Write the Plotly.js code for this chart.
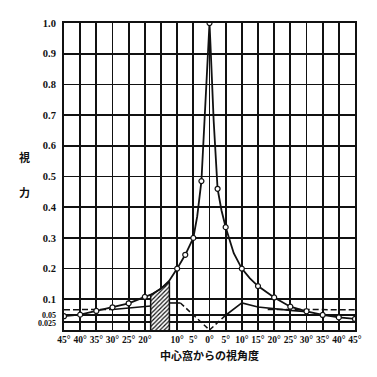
<!DOCTYPE html>
<html><head><meta charset="utf-8">
<script src="https://cdn.plot.ly/plotly-3.0.1.min.js"></script>
<style>html,body{margin:0;padding:0;background:#fff;}#chart{width:377px;height:377px;}</style>
</head><body><div id="chart"></div>
<script>
// Photopic acuity: marked points
const markX = [-45,-40,-35,-30,-25,-20,-10,-7.5,-5,-2.5,0,2.5,5,10,15,20,25,30,35,40,45];
const markY = [0.045,0.05,0.062,0.074,0.087,0.108,0.2,0.245,0.30,0.485,1.0,0.46,0.335,0.2,0.143,0.106,0.076,0.061,0.049,0.041,0.036];
// Photopic acuity: full curve (marked points plus read-off intermediate points)
const curveX = [-45,-40,-35,-30,-25,-20,-17.5,-15,-12.5,-10,-7.5,-5,-3.8,-2.5,-1.5,-0.8,-0.3,0,0.3,0.8,1.3,2.5,3.7,5,7.5,10,12.5,15,20,25,30,35,40,45];
const curveY = [0.045,0.05,0.062,0.074,0.087,0.108,0.118,0.135,0.16,0.2,0.245,0.30,0.37,0.485,0.68,0.82,0.93,1.0,0.93,0.8,0.68,0.46,0.39,0.335,0.25,0.2,0.168,0.143,0.106,0.076,0.061,0.049,0.041,0.036];
// Lower curve, solid parts
const lowLeftX = [-30,-25,-20,-18.2];
const lowLeftY = [0.067,0.071,0.076,0.078];
const lowMidX = [-12.4,-9];
const lowMidY = [0.088,0.088];
const lowRightX = [5,10,15,20,25,30];
const lowRightY = [0.048,0.088,0.075,0.069,0.064,0.06];
// Lower curve, dashed parts
const foveaX = [-9,0,5];
const foveaY = [0.088,0.0,0.048];
const dashLeftX = [-45,-30];
const dashLeftY = [0.066,0.067];
const dashRightX = [18,45];
const dashRightY = [0.067,0.066];
// Blind spot (hatched)
const blindX = [-18.2,-18.2,-15,-12.4,-12.4];
const blindY = [0,0.114,0.135,0.158,0];
// Ticks
const xTickVals = [-45,-40,-35,-30,-25,-20,-15,-10,-5,0,5,10,15,20,25,30,35,40,45];
const xTickText = ['45°','40°','35°','30°','25°','20°','','10°','5°','0°','5°','10°','15°','20°','25°','30°','35°','40°','45°'];
const yTickVals = [0.025,0.05,0.1,0.2,0.3,0.4,0.5,0.6,0.7,0.8,0.9,1.0];
const yTickText = ['<span style="font-size:8px">0.025</span>','<span style="font-size:8px">0.05</span>','0.1','0.2','0.3','0.4','0.5','0.6','0.7','0.8','0.9','1.0'];

const blk = '#111';
const traces = [
  {x: blindX, y: blindY, type:'scatter', mode:'lines', fill:'toself', fillcolor:'rgba(0,0,0,0)',
   fillpattern:{shape:'/', fgcolor:blk, bgcolor:'white', size:3, solidity:0.4},
   line:{color:blk, width:1.5}, hoverinfo:'skip'},
  {x: dashLeftX, y: dashLeftY, type:'scatter', mode:'lines', line:{color:blk, width:1.5, dash:'6px,3px'}},
  {x: dashRightX, y: dashRightY, type:'scatter', mode:'lines', line:{color:blk, width:1.5, dash:'6px,3px'}},
  {x: foveaX, y: foveaY, type:'scatter', mode:'lines', line:{color:blk, width:1.5, dash:'5px,3px'}},
  {x: lowLeftX, y: lowLeftY, type:'scatter', mode:'lines', line:{color:blk, width:1.6}},
  {x: lowMidX, y: lowMidY, type:'scatter', mode:'lines', line:{color:blk, width:1.6}},
  {x: lowRightX, y: lowRightY, type:'scatter', mode:'lines', line:{color:blk, width:1.6}},
  {x: curveX, y: curveY, type:'scatter', mode:'lines', line:{color:blk, width:1.8}},
  {x: markX, y: markY, type:'scatter', mode:'markers',
   marker:{symbol:'circle', size:5, color:'white', line:{color:blk, width:1.2}}}
];

const tickFont = {family:'Liberation Serif, DejaVu Serif, serif', size:10.5, color:blk, weight:'bold'};
const layout = {
  width:377, height:377,
  margin:{l:64, r:22, t:23, b:47},
  paper_bgcolor:'white', plot_bgcolor:'white',
  showlegend:false,
  xaxis:{range:[-45,45], tickmode:'array', tickvals:xTickVals, ticktext:xTickText,
    showgrid:true, gridcolor:blk, gridwidth:1.7, zeroline:false,
    showline:true, linecolor:blk, linewidth:2, mirror:true, ticks:'',
    tickfont:{...tickFont, size:9.5}, ticklabelstandoff:0, fixedrange:true},
  yaxis:{range:[0,1], tickmode:'array', tickvals:yTickVals, ticktext:yTickText,
    showgrid:true, gridcolor:blk, gridwidth:1.7, zeroline:false,
    showline:true, linecolor:blk, linewidth:2, mirror:true, ticks:'',
    tickfont:tickFont, ticklabelstandoff:4, fixedrange:true},
  annotations:[
    {text:'視', xref:'paper', yref:'paper', x:-0.163, y:0.565, showarrow:false,
     font:{family:'Noto Sans CJK JP', size:11, color:blk, weight:'bold'}},
    {text:'力', xref:'paper', yref:'paper', x:-0.163, y:0.45, showarrow:false,
     font:{family:'Noto Sans CJK JP', size:11, color:blk, weight:'bold'}},
    {text:'中心窩からの視角度', xref:'paper', yref:'paper', x:0.5, y:-0.08, yanchor:'middle', showarrow:false,
     font:{family:'Noto Sans CJK JP', size:11, color:blk, weight:'bold'}}
  ]
};
Plotly.newPlot('chart', traces, layout, {staticPlot:true, displayModeBar:false});
</script></body></html>
